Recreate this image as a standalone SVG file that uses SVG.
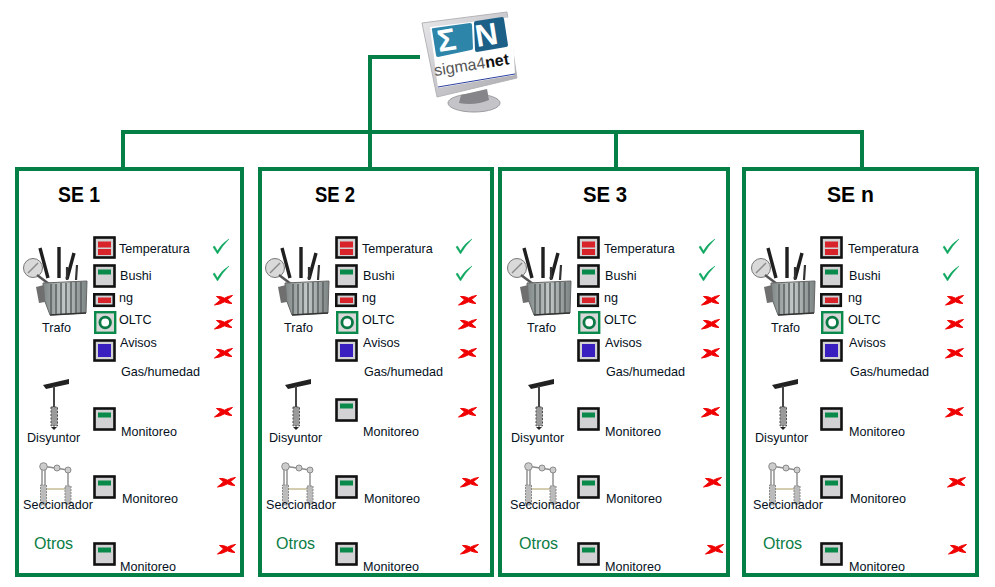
<svg xmlns="http://www.w3.org/2000/svg" width="995" height="587" viewBox="0 0 995 587">
<style>
text{font-family:"Liberation Sans",Arial,sans-serif;font-size:12.6px;fill:#05101c}
.t{font-size:22px;font-weight:700;fill:#000}
.o{font-size:16px;fill:#0b7d45}
.p{fill:none;stroke:#047f46;stroke-width:4}
.c{fill:none;stroke:#047f46;stroke-width:4}
.b{fill:#d2d2d4;stroke:#111;stroke-width:2.6}
.chk{fill:#10a860;stroke:#10a860;stroke-width:.5}
.x{fill:#f00000;stroke:#f00000;stroke-width:1}
</style>
<defs>
<linearGradient id="bez" x1="0" y1="0" x2="1" y2="1"><stop offset="0" stop-color="#e9e9ec"/><stop offset="1" stop-color="#a9a9ae"/></linearGradient>
<linearGradient id="tank" x1="0" y1="0" x2="1" y2="0"><stop offset="0" stop-color="#7f8686"/><stop offset=".5" stop-color="#c3c8c8"/><stop offset="1" stop-color="#7b8282"/></linearGradient>
<g id="mon"><rect class="b" x="1.5" y="1.5" width="20" height="21"/><rect x="5" y="5.500" width="13" height="5" fill="#0a8a4a"/></g>
<g id="temp"><rect class="b" x="1.5" y="1.5" width="20" height="20"/><rect x="5" y="5.500" width="13" height="6" fill="#d8232a"/><rect x="5" y="13" width="13" height="6" fill="#d8232a"/></g>
<g id="ngi"><rect class="b" x="1.3" y="1.3" width="19.5" height="11.500"/><rect x="5" y="4.500" width="13" height="5.500" fill="#d8232a"/></g>
<g id="olt"><rect x="1.2" y="1.2" width="20" height="20.6" fill="#d8d8d8" stroke="#0a8a4a" stroke-width="2.4"/><circle cx="11.2" cy="11.500" r="5.3" fill="#fff" stroke="#0a7a45" stroke-width="2.8"/></g>
<g id="avi"><rect class="b" x="1.5" y="1.5" width="20" height="20"/><rect x="5" y="5" width="13" height="13" fill="#3a1fc0"/></g>
<path id="ck" class="chk" d="M0 8 L1.500 7 L4.500 12 Q8 5 16 0 Q9 7 4.500 15 Z"/>
<path id="xx" class="x" d="M0.500 10 Q4 7 6.500 5 Q4.500 2.500 2.500 1.500 Q7 1 10.500 3.200 Q14 1 18.500 .5 Q16 2.500 13.500 4.500 Q16 7 18 8.500 Q14 8.500 10.500 6.800 Q6 9.500 .5 10 Z"/>
<g id="trafo">
<path d="M17 1 L25 31 M36 0 L36 31 M51 6 L44 32" stroke="#1f1f1f" stroke-width="3.4" fill="none"/>
<path d="M44 20 L44 33 M54 18 L53 33" stroke="#333" stroke-width="2.2" fill="none"/>
<circle cx="10" cy="21" r="9.500" fill="#d9d9d9" stroke="#777"/><path d="M5 26 L15 16" stroke="#8a8a8a" stroke-width="1.5"/><path d="M14 28 L26 37" stroke="#555" stroke-width="2.5"/>
<path d="M20 36 L64 34 L63 66 L27 68 L21 52 Z" fill="url(#tank)" stroke="#666"/>
<path d="M28 37 V67 M33 37 V67 M38 36 V67 M43 36 V67 M48 35 V66 M53 35 V66 M58 35 V66" stroke="#596060" stroke-width="1.500"/>
<path d="M13 40 L21 38 L22 55 L16 56 Z" fill="#6f6f6f"/>
<path d="M27 68 L63 66" stroke="#333" stroke-width="1.5"/>
</g>
<g id="disy">
<path d="M0 6 L26 0 L26 5 L3 10 Z" fill="#222"/>
<path d="M11 7 V28" stroke="#444" stroke-width="2"/>
<rect x="8" y="28" width="6.500" height="19" fill="#9a9a9a" stroke="#4d4d4d" stroke-dasharray="2 1.500"/>
<path d="M8 48 H14 L11 51 Z" fill="#222"/>
</g>
<g id="secc" fill="none" stroke="#8a8a8a">
<path d="M4 3 V40 M7 3 V40 M30 7 V42 M4 3 L30 7" stroke-width="1.4"/>
<path d="M7 26 H28" stroke="#a89a60"/>
<circle cx="5.500" cy="3.500" r="3.800" fill="#ccc"/><circle cx="19" cy="5" r="3" fill="#ccc"/><circle cx="30" cy="7" r="3" fill="#ccc"/>
<rect x="2.500" y="22" width="6" height="20" fill="#bbb" stroke-dasharray="2 1"/><rect x="27" y="23" width="6" height="18" fill="#bbb" stroke-dasharray="2 1"/>
</g>
</defs>

<g id="connectors">
<path class="c" d="M420 57 H370 V168"/>
<path class="c" d="M123 168 V132 H862 V168"/>
<path class="c" d="M616 132 V168"/>
</g>

<g id="logo">
<ellipse cx="474" cy="103" rx="26" ry="9" fill="#c4c4c8" stroke="#9b9b9f"/>
<path d="M461 95 L487 89 L489 100 Q475 106 459 103 Z" fill="#85858a"/>
<path d="M422 23 L507 12 L517 78 L437 97 Z" fill="url(#bez)" stroke="#b5b5b9"/>
<path d="M430 27 L512 17 L515 75 L438 88 Z" fill="#fff"/>
<path d="M438 87 L515 74" stroke="#2b3fa0" stroke-width="1" fill="none"/>
<path d="M432 30 Q431 28 434 28 L470 23 Q472 23 472 25 L473 48 Q473 50 471 50 L438 57 Q436 57 436 55 Z" fill="#2d86aa"/>
<path d="M474 23 Q474 21 476 21 L502 17 Q504 17 504 19 L508 45 Q508 47 506 47 L477 52 Q475 52 475 50 Z" fill="#1c6088"/>
<text x="439" y="52" transform="rotate(-9 439 52)" style="font-size:31px;font-weight:700;fill:#fff">Σ</text>
<text x="477" y="47" transform="rotate(-9 477 47)" style="font-size:31px;font-weight:700;fill:#fff">N</text>
<text x="435" y="76" transform="rotate(-9 435 76)" style="font-size:16px;fill:#555">sigma4<tspan style="font-size:16px;font-weight:700;fill:#111">net</tspan></text>
</g>

<g id="se1">
<rect class="p" x="17" y="169" width="225" height="406"/>
<text class="t" x="58" y="202" textLength="42" lengthAdjust="spacingAndGlyphs">SE 1</text>
<use href="#trafo" x="23" y="247"/><text x="42" y="331.500">Trafo</text>
<use href="#temp" x="93" y="236"/><text x="119" y="253">Temperatura</text><use href="#ck" x="213" y="239"/>
<use href="#mon" x="93" y="264"/><text x="120" y="279.500">Bushi</text><use href="#ck" x="213" y="266"/>
<use href="#ngi" x="93" y="293"/><text x="119" y="302">ng</text><use href="#xx" x="214" y="295"/>
<use href="#olt" x="94" y="311"/><text x="119" y="323.500">OLTC</text><use href="#xx" x="214" y="319"/>
<use href="#avi" x="93" y="339"/><text x="120" y="346.500">Avisos</text><use href="#xx" x="214" y="348"/>
<text x="121" y="376">Gas/humedad</text>
<use href="#disy" x="43" y="379"/><text x="27" y="442">Disyuntor</text>
<use href="#mon" x="93" y="407"/><text x="121" y="436">Monitoreo</text><use href="#xx" x="214" y="407"/>
<use href="#secc" x="38" y="463"/><text x="23" y="509">Seccionador</text>
<use href="#mon" x="93" y="475"/><text x="122" y="503">Monitoreo</text><use href="#xx" x="217" y="477"/>
<text class="o" x="34" y="549">Otros</text>
<use href="#mon" x="93" y="542"/><text x="120" y="571">Monitoreo</text><use href="#xx" x="217" y="544"/>
</g>

<g id="se2">
<rect class="p" x="260" y="169" width="232" height="406"/>
<text class="t" x="315" y="202" textLength="40" lengthAdjust="spacingAndGlyphs">SE 2</text>
<use href="#trafo" x="265" y="247"/><text x="284" y="331.500">Trafo</text>
<use href="#temp" x="335" y="236"/><text x="362" y="253">Temperatura</text><use href="#ck" x="456" y="239"/>
<use href="#mon" x="335" y="264"/><text x="363" y="279.500">Bushi</text><use href="#ck" x="456" y="266"/>
<use href="#ngi" x="335" y="293"/><text x="362" y="302">ng</text><use href="#xx" x="458" y="295"/>
<use href="#olt" x="336" y="311"/><text x="362" y="323.500">OLTC</text><use href="#xx" x="458" y="319"/>
<use href="#avi" x="335" y="339"/><text x="363" y="346.500">Avisos</text><use href="#xx" x="458" y="348"/>
<text x="364" y="376">Gas/humedad</text>
<use href="#disy" x="285" y="379"/><text x="269" y="442">Disyuntor</text>
<use href="#mon" x="335" y="398"/><text x="363" y="436">Monitoreo</text><use href="#xx" x="458" y="407"/>
<use href="#secc" x="280" y="463"/><text x="266" y="509">Seccionador</text>
<use href="#mon" x="335" y="475"/><text x="364" y="503">Monitoreo</text><use href="#xx" x="460" y="477"/>
<text class="o" x="276" y="549">Otros</text>
<use href="#mon" x="335" y="542"/><text x="363" y="571">Monitoreo</text><use href="#xx" x="460" y="544"/>
</g>

<g id="se3">
<rect class="p" x="500" y="169" width="228" height="406"/>
<text class="t" x="583" y="202" textLength="44" lengthAdjust="spacingAndGlyphs">SE 3</text>
<use href="#trafo" x="507" y="247"/><text x="527" y="331.500">Trafo</text>
<use href="#temp" x="577" y="236"/><text x="604" y="253">Temperatura</text><use href="#ck" x="699" y="239"/>
<use href="#mon" x="577" y="264"/><text x="605" y="279.500">Bushi</text><use href="#ck" x="699" y="266"/>
<use href="#ngi" x="577" y="293"/><text x="604" y="302">ng</text><use href="#xx" x="701" y="295"/>
<use href="#olt" x="578" y="311"/><text x="604" y="323.500">OLTC</text><use href="#xx" x="701" y="319"/>
<use href="#avi" x="577" y="339"/><text x="605" y="346.500">Avisos</text><use href="#xx" x="701" y="348"/>
<text x="606" y="376">Gas/humedad</text>
<use href="#disy" x="528" y="379"/><text x="511" y="442">Disyuntor</text>
<use href="#mon" x="577" y="407"/><text x="605" y="436">Monitoreo</text><use href="#xx" x="701" y="407"/>
<use href="#secc" x="523" y="463"/><text x="510" y="509">Seccionador</text>
<use href="#mon" x="577" y="475"/><text x="606" y="503">Monitoreo</text><use href="#xx" x="703" y="477"/>
<text class="o" x="519" y="549">Otros</text>
<use href="#mon" x="577" y="542"/><text x="605" y="571">Monitoreo</text><use href="#xx" x="705" y="544"/>
</g>

<g id="sen">
<rect class="p" x="744" y="169" width="233" height="406"/>
<text class="t" x="827" y="202" textLength="47" lengthAdjust="spacingAndGlyphs">SE n</text>
<use href="#trafo" x="751" y="247"/><text x="771" y="331.500">Trafo</text>
<use href="#temp" x="820" y="236"/><text x="848" y="253">Temperatura</text><use href="#ck" x="943" y="239"/>
<use href="#mon" x="820" y="264"/><text x="849" y="279.500">Bushi</text><use href="#ck" x="943" y="266"/>
<use href="#ngi" x="820" y="293"/><text x="848" y="302">ng</text><use href="#xx" x="945" y="295"/>
<use href="#olt" x="821" y="311"/><text x="848" y="323.500">OLTC</text><use href="#xx" x="945" y="319"/>
<use href="#avi" x="820" y="339"/><text x="849" y="346.500">Avisos</text><use href="#xx" x="945" y="348"/>
<text x="850" y="376">Gas/humedad</text>
<use href="#disy" x="772" y="379"/><text x="755" y="442">Disyuntor</text>
<use href="#mon" x="820" y="407"/><text x="849" y="436">Monitoreo</text><use href="#xx" x="945" y="407"/>
<use href="#secc" x="767" y="463"/><text x="753" y="509">Seccionador</text>
<use href="#mon" x="820" y="475"/><text x="850" y="503">Monitoreo</text><use href="#xx" x="947" y="477"/>
<text class="o" x="763" y="549">Otros</text>
<use href="#mon" x="820" y="542"/><text x="849" y="571">Monitoreo</text><use href="#xx" x="948" y="544"/>
</g>
</svg>
